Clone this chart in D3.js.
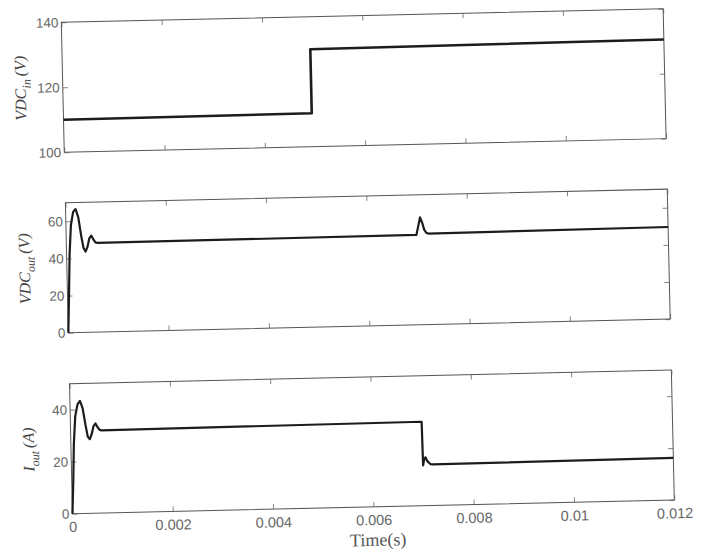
<!DOCTYPE html>
<html>
<head>
<meta charset="utf-8">
<script src="https://cdn.jsdelivr.net/npm/d3@7"></script>
<style>
  body { margin: 0; background: #fff; }
  svg { display: block; }
</style>
</head>
<body>
<div id="chart"></div>
<script>
// time axis (s)
var xTicks = [0, 0.002, 0.004, 0.006, 0.008, 0.01, 0.012];
var xTickLabels = ["0", "0.002", "0.004", "0.006", "0.008", "0.01", "0.012"];

// VDC_in (V)
var tIn = [0, 0.00495, 0.00495, 0.012];
var vIn = [110, 110.3, 130, 130.5];

// VDC_out (V)
var tOut = [0, 0.00003, 0.00006, 0.0001, 0.00015, 0.0002, 0.00025, 0.0003, 0.00034, 0.00038,
            0.00042, 0.00046, 0.0005, 0.00054, 0.00058, 0.00062, 0.00698, 0.00702, 0.00706,
            0.0071, 0.00714, 0.00718, 0.00722, 0.012];
var vOut = [0, 20, 42, 58, 65, 66.5, 62, 52, 45.5, 43.5,
            46, 50.5, 52, 50, 48.3, 48, 48.4, 53, 57.8,
            55, 51, 49.4, 49, 49.6];

// I_out (A)
var tCur = [0, 0.00003, 0.00006, 0.0001, 0.00015, 0.0002, 0.00025, 0.0003, 0.00034, 0.00038,
            0.00042, 0.00046, 0.0005, 0.00054, 0.00058, 0.00062, 0.007, 0.00701, 0.00703,
            0.00706, 0.0071, 0.00716, 0.0072, 0.012];
var iOut = [0, 12, 27, 37.5, 42, 43.3, 40.5, 34, 29.5, 28.5,
            30.5, 33.5, 34.5, 33, 32, 31.8, 32.3, 15.5, 17.5,
            18.6, 17, 15.9, 15.8, 16.2];

var panels = [
  { t: tIn,  v: vIn,  domain: [100, 140], ticks: [100, 120, 140], label: ["VDC", "in", "(V)"],  width: 2.6 },
  { t: tOut, v: vOut, domain: [0, 70],    ticks: [0, 20, 40, 60], label: ["VDC", "out", "(V)"], width: 2.2 },
  { t: tCur, v: iOut, domain: [0, 50],    ticks: [0, 20, 40],     label: ["I", "out", "(A)"],   width: 2.2 }
];

var W = 706, H = 554;
var left = 67, right = 669, ph = 130;
var tops = [15.5, 196, 377];

var svg = d3.select("#chart").append("svg")
  .attr("width", W)
  .attr("height", H);

svg.append("rect").attr("width", W).attr("height", H).attr("fill", "#fff");

// the scanned figure sits slightly tilted
var g = svg.append("g").attr("transform", "rotate(-1.3, 365, 270)");

var x = d3.scaleLinear().domain([0, 0.012]).range([left, right]);

panels.forEach(function(p, i) {
  var top = tops[i], bottom = top + ph;
  var y = d3.scaleLinear().domain(p.domain).range([bottom, top]);
  var pg = g.append("g");

  // axes with inward ticks
  var yl = pg.append("g").attr("transform", "translate(" + left + ",0)")
    .call(d3.axisLeft(y).tickValues(p.ticks).tickSize(-5).tickPadding(3));
  var yr = pg.append("g").attr("transform", "translate(" + right + ",0)")
    .call(d3.axisRight(y).tickValues(p.ticks).tickSize(-5).tickFormat(""));
  var xt = pg.append("g").attr("transform", "translate(0," + top + ")")
    .call(d3.axisTop(x).tickValues(xTicks).tickSize(-5).tickFormat(""));
  var xb = pg.append("g").attr("transform", "translate(0," + bottom + ")")
    .call(d3.axisBottom(x).tickValues(xTicks).tickSize(-5).tickPadding(8)
      .tickFormat(function(d, k) { return i === 2 ? xTickLabels[k] : ""; }));

  [yl, yr, xt, xb].forEach(function(a) {
    a.select(".domain").remove();
    a.selectAll(".tick line").attr("stroke", "#777").attr("stroke-width", 0.9);
    a.selectAll(".tick text")
      .attr("fill", "#666")
      .style("font-family", "'Liberation Sans', Arial, sans-serif");
  });
  yl.selectAll(".tick text").style("font-size", "13.5px");
  xb.selectAll(".tick text").style("font-size", "14.5px");

  pg.append("rect")
    .attr("x", left).attr("y", top)
    .attr("width", right - left).attr("height", ph)
    .attr("fill", "none")
    .attr("stroke", "#555")
    .attr("stroke-width", 1);

  var pts = p.t.map(function(t, k) { return [t, p.v[k]]; });
  pg.append("path")
    .datum(pts)
    .attr("fill", "none")
    .attr("stroke", "#1c1c1c")
    .attr("stroke-width", p.width)
    .attr("stroke-linejoin", "round")
    .attr("d", d3.line()
      .x(function(d) { return x(d[0]); })
      .y(function(d) { return y(d[1]); }));

  // y label
  var lab = pg.append("text")
    .attr("transform", "translate(30," + (top + ph / 2) + ") rotate(-90)")
    .attr("text-anchor", "middle")
    .attr("fill", "#444")
    .style("font-family", "'Liberation Serif', 'Times New Roman', serif")
    .style("font-style", "italic")
    .style("font-size", "16px");
  lab.append("tspan").text(p.label[0]);
  lab.append("tspan").attr("dy", 5).style("font-size", "12px").text(p.label[1]);
  lab.append("tspan").attr("dy", -5).attr("dx", 3).text(p.label[2]);
});

g.append("text")
  .attr("x", (left + right) / 2 + 4)
  .attr("y", tops[2] + ph + 39)
  .attr("text-anchor", "middle")
  .attr("fill", "#555")
  .style("font-family", "'Liberation Serif', 'Times New Roman', serif")
  .style("font-size", "18px")
  .text("Time(s)");
</script>
</body>
</html>
